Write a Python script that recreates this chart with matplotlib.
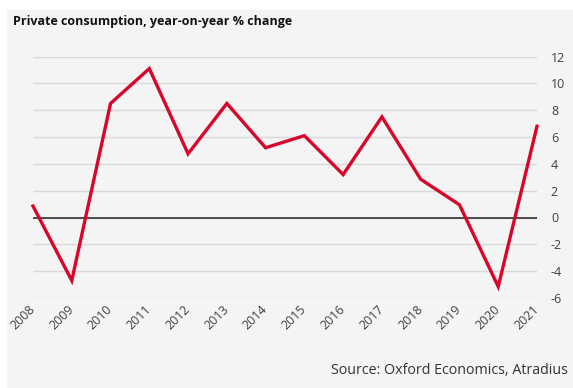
import matplotlib
matplotlib.use("Agg")
import matplotlib.pyplot as plt
from matplotlib.patches import Rectangle

years = [2008, 2009, 2010, 2011, 2012, 2013, 2014, 2015, 2016, 2017, 2018, 2019, 2020, 2021]
values = [0.85, -4.7, 8.5, 11.1, 4.75, 8.5, 5.2, 6.1, 3.2, 7.5, 2.85, 0.95, -5.15, 6.8]
yticks = [-6, -4, -2, 0, 2, 4, 6, 8, 10, 12]

W, H = 573, 388
fig = plt.figure(figsize=(W / 100, H / 100), dpi=100)
fig.patch.set_facecolor("white")
fig.patches.append(Rectangle((7 / W, 0), 1 - 7 / W, 1 - 10 / H, transform=fig.transFigure,
                             facecolor="#f4f4f4", edgecolor="none", zorder=-10))

left, right, top, bottom = 33, 537, 56.5, 298
ax = fig.add_axes([left / W, 1 - bottom / H, (right - left) / W, (bottom - top) / H])
ax.set_zorder(5)
ax.set_facecolor("none")
ax.plot(years, values, color="#d7062a", lw=2.4, solid_joinstyle="miter", zorder=3, clip_on=False)
ax.axhline(0, color="#222222", lw=1.1, zorder=2)
ax.set_xlim(2008, 2021)
ax.set_ylim(-6, 12)
ax.set_yticks(yticks)
ax.set_yticklabels([f"{t}" if t >= 0 else f"-{abs(t)}" for t in yticks])
ax.yaxis.tick_right()
ax.grid(axis="y", color="#d9d9d9", lw=1.0, zorder=1)
ax.set_xticks(years)
ax.set_xticklabels([str(y) for y in years], rotation=45, ha="right", va="center",
                   rotation_mode="anchor")
for s in ax.spines.values():
    s.set_visible(False)
ax.tick_params(axis="both", length=0, labelsize=9, colors="#404040", labelfontfamily="Open Sans")
ax.tick_params(axis="y", pad=10)
ax.tick_params(axis="x", pad=7)

fig.text(13 / W, 1 - 22 / H, "Private consumption, year-on-year % change", fontsize=9,
         fontweight="bold", family="Open Sans", color="#111111", va="center", ha="left")
fig.text(568 / W, 1 - 371 / H, "Source: Oxford Economics, Atradius", fontsize=10.3,
         family="Open Sans", color="#333333", va="center", ha="right")

fig.savefig("out.png", dpi=100, facecolor=fig.get_facecolor())
